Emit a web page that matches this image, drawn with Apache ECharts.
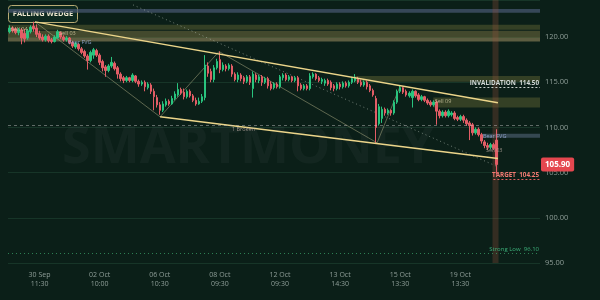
<!DOCTYPE html>
<html><head><meta charset="utf-8">
<script src="https://cdn.jsdelivr.net/npm/echarts@6/dist/echarts.min.js"></script>
<style>html,body{margin:0;padding:0;background:#0b1f18;}#c{width:600px;height:300px;}</style>
</head><body><div id="c"></div>
<script>
// ---------- data ----------
const totalSlots = 177;           // candles + empty right margin
const tickIndex = [10, 30, 50, 70, 90, 110, 130, 150];
const tickLabels = ['30 Sep\n11:30','02 Oct\n10:00','06 Oct\n10:30','08 Oct\n09:30','12 Oct\n09:30','13 Oct\n14:30','15 Oct\n13:30','19 Oct\n13:30'];
const yTicks = [95, 100, 105, 110, 115, 120];
// [open, close, low, high]
const candles = [
[120.6,121.0,120.4,121.3],[121.0,120.7,120.5,121.2],[120.9,120.5,120.3,121.1],[120.5,120.8,120.2,121.0],
[120.8,119.9,119.2,121.0],[120.4,119.8,119.4,120.9],[119.9,120.7,119.7,120.9],[120.6,121.1,120.4,121.3],
[121.2,120.9,120.6,121.7],[121.0,120.3,120.0,121.4],[120.4,119.9,119.7,120.7],[120.0,119.7,119.5,120.3],
[119.7,120.1,119.5,120.3],[120.1,119.6,119.4,120.3],[119.7,119.5,119.3,119.9],[119.5,120.0,119.4,120.2],
[119.9,120.6,119.8,120.8],[120.5,120.0,119.8,120.6],[120.0,119.7,119.5,120.2],[119.7,119.9,119.5,120.1],
[119.9,119.4,119.2,120.0],[119.4,119.0,118.8,119.6],[118.9,119.3,118.7,119.5],[119.2,118.7,118.5,119.3],
[118.7,118.3,118.1,118.9],[118.4,117.9,117.7,118.6],[117.9,117.4,116.4,118.1],[117.4,118.3,117.2,118.5],
[118.0,118.6,117.6,118.8],[118.5,118.0,117.8,118.7],[118.0,117.2,116.9,118.2],[117.3,116.6,116.2,117.5],
[116.7,116.3,115.6,116.9],[116.3,116.8,116.1,117.0],[116.8,117.2,116.6,117.8],[117.1,116.5,116.3,117.3],
[116.6,115.9,115.4,116.8],[115.9,115.4,115.1,116.1],[115.5,115.2,114.9,115.7],[115.2,115.5,115.0,115.7],
[115.5,115.2,115.0,115.6],[115.2,115.8,115.0,116.0],[115.7,115.1,114.9,115.8],[115.1,114.8,114.5,115.3],
[114.8,115.0,114.6,115.2],[115.0,114.5,114.0,115.2],[114.4,114.8,114.2,115.0],[114.7,114.0,113.7,114.9],
[114.0,113.4,111.9,114.3],[113.3,112.5,112.2,113.6],[112.5,111.9,111.4,112.8],[111.9,112.6,111.7,112.9],
[112.5,112.9,112.3,113.2],[112.9,112.6,112.4,113.1],[112.6,113.2,112.5,113.5],[113.2,113.7,113.0,114.0],
[113.6,114.2,113.4,114.9],[114.2,113.8,113.6,114.4],[113.9,113.4,113.1,114.3],[113.4,114.0,113.2,114.2],
[114.0,113.5,113.3,114.2],[113.5,113.0,112.8,113.7],[113.0,112.6,112.4,113.3],[112.6,112.9,112.5,113.3],
[112.9,113.4,112.7,113.7],[113.3,116.9,113.0,118.0],[116.8,116.0,115.6,117.2],[116.2,115.3,115.0,116.5],
[115.3,116.6,115.0,116.9],[116.6,117.3,116.4,117.6],[117.5,116.4,116.0,118.4],[116.4,116.9,116.2,117.2],
[116.8,116.5,116.2,117.0],[116.5,116.9,116.3,117.1],[116.8,115.9,115.6,117.0],[115.9,115.3,115.1,116.1],
[115.3,115.8,115.0,116.1],[115.8,115.4,115.1,116.0],[115.5,115.1,114.8,115.7],[115.1,115.6,114.9,115.8],
[115.6,115.0,114.7,115.8],[114.3,115.9,113.3,116.2],[115.8,115.3,115.0,116.0],[115.2,115.6,114.9,115.8],
[115.6,115.0,114.6,115.8],[115.0,115.4,114.8,115.6],[115.4,114.6,114.3,115.6],[114.8,114.3,114.1,115.1],
[114.4,114.8,114.2,115.0],[114.8,114.5,114.3,115.0],[114.5,115.6,114.3,115.8],[115.5,115.8,115.2,116.0],
[115.8,115.3,115.1,116.0],[115.3,115.6,115.1,115.8],[115.6,115.2,115.0,115.7],[115.2,115.5,115.0,115.7],
[115.5,114.6,114.0,115.7],[114.7,114.3,114.1,114.9],[114.3,114.6,114.1,114.8],[114.6,114.3,114.1,114.8],
[114.3,115.7,114.1,116.0],[115.6,115.9,115.4,116.1],[115.9,115.4,115.2,116.0],[115.5,115.2,115.0,115.7],
[115.1,115.3,114.8,115.5],[114.9,115.2,114.6,115.4],[115.2,114.8,114.6,115.4],[115.0,114.4,114.1,115.2],
[114.6,114.3,114.0,114.8],[114.3,114.8,114.1,115.0],[114.8,114.5,114.2,115.0],[114.5,114.9,114.3,115.1],
[114.9,114.6,114.4,115.1],[114.6,115.0,114.4,115.2],[115.0,115.4,114.8,115.6],[115.2,115.5,115.0,115.9],
[115.4,115.0,114.8,115.6],[115.0,114.7,114.5,115.3],[114.7,115.0,114.5,115.2],[115.0,114.5,114.2,115.2],
[114.6,114.1,113.9,114.8],[114.1,113.6,113.4,114.3],[113.2,110.0,108.3,113.5],[110.4,112.3,110.2,112.6],
[111.0,112.0,110.5,112.3],[112.0,111.6,111.3,112.2],[111.6,111.9,111.4,112.1],[111.9,111.6,111.3,112.0],
[111.6,112.8,111.4,113.0],[112.8,114.0,112.6,114.2],[114.0,114.4,113.8,114.6],[114.4,113.9,113.7,114.5],
[114.0,113.6,113.4,114.2],[113.5,113.8,113.3,114.0],[113.3,114.0,112.2,114.2],[114.0,113.5,113.3,114.1],
[113.6,113.1,112.9,113.8],[113.1,113.4,112.9,113.6],[113.4,113.0,112.8,113.5],[113.0,112.7,112.5,113.2],
[112.8,112.5,112.3,113.0],[112.5,112.8,112.3,113.0],[112.8,111.8,110.3,113.0],[111.8,111.3,111.0,112.0],
[111.3,111.7,111.1,111.9],[111.7,111.3,111.1,111.9],[111.3,111.8,111.1,112.0],[111.4,111.6,111.2,111.8],
[111.6,111.0,110.8,111.8],[111.1,110.9,110.7,111.3],[110.9,111.2,110.7,111.4],[111.2,110.8,110.5,111.4],
[110.8,110.4,110.2,111.0],[110.5,110.2,108.6,110.7],[110.3,109.4,109.1,110.5],[109.4,109.8,109.2,110.0],
[109.8,109.2,109.0,110.0],[109.2,108.5,108.2,109.4],[108.4,108.0,107.7,108.6],[108.0,107.8,107.5,108.3],
[107.8,108.1,107.6,108.3],[108.1,107.7,107.5,108.3],[108.6,105.9,104.8,109.8]
];
const lastPrice = 105.90;
const invalidation = 114.50;
const target = 104.25;
const strongLow = 96.10;
const brokenLevel = 110.2;
// wedge / structure anchor points [slot index, price]
const wedgeUpper = [[8.5, 121.68], [162.5, 112.72]];
const wedgeLower = [[50.1, 111.17], [162.5, 106.55]];
const zigzag = [[8.5, 121.68], [50.1, 111.17], [69.7, 118.4], [122.3, 108.3], [130.0, 114.6]];
const projection = [[41.1, 123.56], [162.5, 105.64]];
// zones [fromSlot (null = full), lowPrice, highPrice]
const zones = [
  [null, 122.7, 123.1, 'slate'],
  [null, 120.8, 121.35, 'olive'],
  [null, 119.9, 120.7, 'olive2'],
  [null, 119.5, 119.9, 'tan'],
  [115, 115.05, 115.7, 'olive'],
  [141, 112.2, 113.3, 'olive'],
  [157, 108.85, 109.3, 'slate2']
];
const noteTexts = ['Sell 04', 'Sell 03', 'Bear FVG', 'Sell 09', 'Bear FVG', 'Sell 03', '1 Broken'];
const noteSlots = [0.5, 16.5, 19.5, 141.5, 157.5, 158.5, 74];
const notePrices = [120.8, 120.4, 119.45, 112.9, 109.05, 107.4, 109.8];
const noteKinds = ['tan', 'tan', 'blue', 'tan', 'blue', 'gray', 'gray'];

// ---------- chart ----------
const categories = Array.from({length: totalSlots}, (_, i) => String(i));
const zoneColors = {slate:'rgba(70,86,110,0.75)', slate2:'rgba(90,105,130,0.55)', olive:'rgba(120,118,60,0.38)', olive2:'rgba(135,125,70,0.45)', tan:'rgba(175,155,105,0.5)'};
const noteColors = {tan:'#d8cfa8', blue:'#9fb3e0', gray:'#b9a9a0'};
const font = 'Open Sans';

const chart = echarts.init(document.getElementById('c'), null, {renderer: 'canvas'});
const lastSlot = candles.length - 1;

chart.setOption({
  animation: false,
  backgroundColor: '#0b1f18',
  grid: {left: 8, right: 60, top: 0, bottom: 37},
  xAxis: [{
    type: 'category', data: categories, boundaryGap: true,
    axisLine: {show: false}, axisTick: {show: false}, splitLine: {show: false},
    axisLabel: {
      interval: (idx) => tickIndex.includes(idx),
      formatter: (v, idx) => { const k = tickIndex.indexOf(Number(v)); return k >= 0 ? tickLabels[k] : ''; },
      color: '#8f9e98', fontSize: 7, fontFamily: font, lineHeight: 9, margin: 7
    }
  }, {
    type: 'value', min: -0.5, max: totalSlots - 0.5, show: false
  }],
  yAxis: [{
    type: 'value', position: 'right', min: 95, max: 124.1, interval: 5,
    axisLine: {show: false}, axisTick: {show: false},
    axisLabel: {formatter: (v) => yTicks.includes(v) ? v.toFixed(2) : '', color: '#8f9e98', fontSize: 7.5, fontFamily: font, margin: 5},
    splitLine: {lineStyle: {color: 'rgba(70,130,100,0.22)', width: 1}}
  }],
  graphic: [
    {type: 'text', left: 62, top: 122, z: 0, silent: true,
     style: {text: 'SMARTMONEY', font: 'bold 52px "Open Sans"', fill: 'rgba(255,255,255,0.035)'}},
    {type: 'group', left: 8, top: 5, z: 100, children: [
      {type: 'rect', shape: {x: 0, y: 0, width: 69, height: 17, r: 3}, style: {fill: '#0e2a20', stroke: '#b9ab74', lineWidth: 1}},
      {type: 'text', x: 34.5, y: 8.5, style: {text: 'FALLING WEDGE', font: 'bold 7.5px "Open Sans"', fill: '#ece6cf', align: 'center', verticalAlign: 'middle'}}
    ]}
  ],
  series: [
    {
      type: 'line', xAxisIndex: 1, yAxisIndex: 0, data: [], silent: true, z: 1,
      markArea: {
        silent: true,
        data: zones.map(z => [
          z[0] === null ? {yAxis: z[1], itemStyle: {color: zoneColors[z[3]]}} : {xAxis: z[0], yAxis: z[1], itemStyle: {color: zoneColors[z[3]]}},
          z[0] === null ? {yAxis: z[2]} : {xAxis: totalSlots - 0.5, yAxis: z[2]}
        ]).concat([[
          {xAxis: lastSlot - 1.3, yAxis: 95, itemStyle: {color: 'rgba(150,80,60,0.3)'}},
          {xAxis: lastSlot + 0.7, yAxis: 124.1}
        ]])
      },
      markLine: {
        silent: true, symbol: 'none',
        data: [
          {yAxis: brokenLevel, lineStyle: {color: 'rgba(200,200,200,0.45)', type: [3, 3], width: 1}, label: {show: false}},
          {yAxis: strongLow, lineStyle: {color: 'rgba(60,170,110,0.7)', type: [1, 3], width: 1},
            label: {show: true, position: 'insideEndTop', formatter: 'Strong Low  ' + strongLow.toFixed(2), color: '#3cb07a', fontSize: 6, fontFamily: font, distance: 1}},
          [{coord: [lastSlot - 1, target], lineStyle: {color: '#e0605f', type: [2, 2], width: 1},
            label: {show: true, position: 'insideEndTop', formatter: 'TARGET  ' + target.toFixed(2), color: '#f07a72', fontSize: 6.3, fontWeight: 'bold', fontFamily: font, distance: 1}},
           {coord: [totalSlots - 0.5, target]}],
          [{coord: [lastSlot - 7, invalidation], lineStyle: {color: '#c9d0cc', type: [2, 2], width: 1},
            label: {show: true, position: 'insideEndTop', formatter: 'INVALIDATION  ' + invalidation.toFixed(2), color: '#d3d9d6', fontSize: 6.3, fontWeight: 'bold', fontFamily: font, distance: 1}},
           {coord: [totalSlots - 0.5, invalidation]}]
        ]
      }
    },
    {type: 'line', xAxisIndex: 1, data: projection, symbol: 'none', silent: true, z: 2,
     lineStyle: {color: 'rgba(190,200,190,0.55)', width: 1, type: [1, 3]}},
    {type: 'line', xAxisIndex: 1, data: zigzag, symbol: 'none', silent: true, z: 2,
     lineStyle: {color: 'rgba(200,195,150,0.55)', width: 0.8}},
    {
      type: 'candlestick', xAxisIndex: 0, yAxisIndex: 0, data: candles, barWidth: 2, z: 3,
      itemStyle: {color: '#29c47e', color0: '#e35d66', borderColor: '#29c47e', borderColor0: '#e35d66', borderWidth: 1},
      markLine: {
        silent: true, symbol: 'none',
        data: [{yAxis: lastPrice, lineStyle: {color: 'rgba(0,0,0,0)', width: 0},
          label: {show: true, position: 'end', distance: 1, formatter: lastPrice.toFixed(2), backgroundColor: '#e5474f', color: '#ffffff', padding: [3, 4, 3, 4], borderRadius: 2, fontSize: 8, fontWeight: 'bold', fontFamily: font}}]
      }
    },
    {type: 'line', xAxisIndex: 1, data: wedgeUpper, symbol: 'none', silent: true, z: 4,
     lineStyle: {color: '#ecd58a', width: 1.5}},
    {type: 'line', xAxisIndex: 1, data: wedgeLower, symbol: 'none', silent: true, z: 4,
     lineStyle: {color: '#ecd58a', width: 1.5}},
    {type: 'scatter', xAxisIndex: 1, symbolSize: 0, silent: true, z: 5,
     data: noteTexts.map((t, k) => ({value: [noteSlots[k], notePrices[k]],
       label: {show: true, position: 'right', distance: 0, formatter: t, color: noteColors[noteKinds[k]], fontSize: 5.5, fontFamily: font}}))}
  ]
});
</script>
</body></html>
